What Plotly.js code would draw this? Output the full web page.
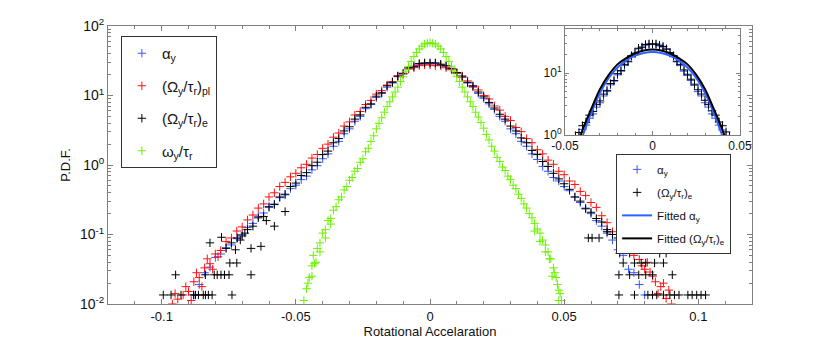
<!DOCTYPE html>
<html><head><meta charset="utf-8">
<script src="https://cdn.plot.ly/plotly-3.0.1.min.js"></script>
<style>html,body{margin:0;padding:0;background:#fff}#chart{width:830px;height:344px}</style>
</head><body><div id="chart"></div>
<script>
// Shared bin centres (rotational acceleration)
const accelX = [-0.1,-0.098,-0.096,-0.094,-0.092,-0.09,-0.088,-0.086,-0.084,-0.082,
-0.08,-0.078,-0.076,-0.074,-0.072,-0.07,-0.068,-0.066,-0.064,-0.062,
-0.06,-0.058,-0.056,-0.054,-0.052,-0.05,-0.048,-0.046,-0.044,-0.042,
-0.04,-0.038,-0.036,-0.034,-0.032,-0.03,-0.028,-0.026,-0.024,-0.022,
-0.02,-0.018,-0.016,-0.014,-0.012,-0.01,-0.008,-0.006,-0.004,-0.002,
0,
0.002,0.004,0.006,0.008,0.01,0.012,0.014,0.016,0.018,0.02,
0.022,0.024,0.026,0.028,0.03,0.032,0.034,0.036,0.038,0.04,
0.042,0.044,0.046,0.048,0.05,0.052,0.054,0.056,0.058,0.06,
0.062,0.064,0.066,0.068,0.07,0.072,0.074,0.076,0.078,0.08,
0.082,0.084,0.086,0.088,0.09,0.092,0.094,0.096,0.098,0.1];

// P.D.F. values, given as powers of ten (log10 of the P.D.F.)
const redLog = [null,null,-2.0,-1.93,-1.87,-1.82,-1.68,-1.62,-1.48,-1.42,
-1.28,-1.23,-1.10,-1.05,-0.95,-0.89,-0.79,-0.72,-0.62,-0.56,
-0.46,-0.40,-0.31,-0.25,-0.17,-0.12,-0.04,0.01,0.10,0.15,
0.24,0.30,0.40,0.46,0.56,0.62,0.72,0.77,0.87,0.93,
1.02,1.07,1.15,1.20,1.28,1.31,1.38,1.40,1.43,1.44,
1.44,
1.43,1.43,1.40,1.37,1.32,1.26,1.21,1.13,1.08,1.00,
0.95,0.85,0.79,0.70,0.64,0.54,0.48,0.38,0.32,0.22,
0.16,0.07,0.01,-0.09,-0.14,-0.23,-0.28,-0.38,-0.44,-0.54,
-0.61,-0.73,-0.83,-0.96,-1.0,-1.12,-1.16,-1.30,-1.36,-1.50,
-1.54,-1.68,-1.75,-1.92,-2.0,null,null,null,null,null];
const redExtraX = [-0.091,-0.087,-0.083,-0.079,-0.081,-0.085,-0.089,-0.095,0.079,0.081,0.083,0.085,0.087,0.089];
const redExtraLog = [-1.75,-1.55,-1.35,-1.32,-1.5,-1.75,-1.95,-1.85,-1.45,-1.4,-1.6,-1.85,-1.7,-1.8];

const blueLog = [null,null,null,null,null,null,-1.87,-1.72,-1.55,-1.47,
-1.33,-1.28,-1.19,-1.15,-1.06,-1.0,-0.90,-0.84,-0.74,-0.69,
-0.61,-0.56,-0.47,-0.43,-0.34,-0.29,-0.21,-0.16,-0.07,-0.01,
0.09,0.16,0.27,0.34,0.45,0.52,0.63,0.70,0.81,0.87,
0.97,1.03,1.12,1.18,1.27,1.31,1.39,1.41,1.45,1.46,
1.46,
1.46,1.44,1.42,1.38,1.32,1.27,1.18,1.12,1.03,0.96,
0.88,0.80,0.70,0.63,0.52,0.45,0.34,0.27,0.16,0.08,
-0.02,-0.09,-0.18,-0.23,-0.31,-0.37,-0.46,-0.54,-0.62,-0.70,
-0.80,-0.88,-0.98,-1.08,-1.22,-1.30,-1.50,-1.55,-1.72,-1.87,
null,null,null,null,null,null,null,null,null,null];

const blackLog = [null,null,null,null,null,null,null,null,null,null,
null,null,null,null,null,-1.02,-0.93,-0.88,-0.76,-0.74,
-0.60,-0.57,-0.46,-0.42,-0.31,-0.26,-0.15,-0.11,-0.01,0.04,
0.15,0.20,0.32,0.38,0.49,0.55,0.66,0.72,0.83,0.88,
0.99,1.04,1.14,1.19,1.28,1.32,1.40,1.42,1.46,1.47,
1.47,
1.47,1.45,1.43,1.39,1.33,1.28,1.19,1.14,1.05,0.98,
0.90,0.82,0.73,0.66,0.56,0.49,0.39,0.32,0.21,0.15,
0.05,-0.02,-0.12,-0.20,-0.27,-0.35,-0.46,-0.52,-0.63,-0.68,
-0.77,-0.82,-0.93,-1.0,-1.05,null,null,null,null,null,
null,null,null,null,null,null,null,null,null,null];
const blackExtraX = [-0.0777,-0.0718,-0.0707,-0.0667,-0.063,-0.054,-0.058,-0.074,-0.076,-0.082,-0.069,-0.061,-0.0725,
-0.0746,-0.072,
-0.0948,-0.0837,-0.0804,-0.0793,-0.0779,-0.0766,-0.0749,-0.0667,
-0.0994,-0.0965,-0.0928,-0.0881,-0.0874,-0.0863,-0.0845,-0.0837,-0.0826,-0.0812,-0.0738,
0.059,0.0604,0.063,0.0707,0.0744,0.0765,0.0856,0.088,0.066,
0.072,0.0762,0.0787,0.0804,0.0837,0.087,
0.0704,0.0744,0.0778,0.0804,0.0829,0.0903,
0.0704,0.0762,0.0812,0.0829,0.0845,0.087,0.0894,0.0911,0.0928,0.0961,0.0977,0.0994,0.101,0.1027];
const blackExtraLog = [-1.04,-1.05,-1.08,-1.20,-1.17,-0.67,-0.88,-1.12,-1.2,-1.12,-0.98,-0.80,-1.22,
-1.41,-1.41,
-1.58,-1.58,-1.58,-1.58,-1.58,-1.58,-1.58,-1.58,
-1.87,-1.87,-1.87,-1.87,-1.87,-1.87,-1.87,-1.87,-1.87,-1.87,-1.87,
-1.05,-1.05,-1.05,-1.27,-1.27,-1.2,-1.27,-1.27,-0.96,
-1.41,-1.41,-1.41,-1.41,-1.41,-1.41,
-1.58,-1.58,-1.58,-1.58,-1.58,-1.58,
-1.87,-1.87,-1.87,-1.87,-1.87,-1.87,-1.87,-1.87,-1.87,-1.87,-1.87,-1.87,-1.87,-1.87];

const greenX = [-0.047,-0.046,-0.045,-0.044,-0.043,-0.042,-0.041,-0.04,-0.039,-0.038,
-0.037,-0.036,-0.035,-0.034,-0.033,-0.032,-0.031,-0.03,-0.029,-0.028,
-0.027,-0.026,-0.025,-0.024,-0.023,-0.022,-0.021,-0.02,-0.019,-0.018,
-0.017,-0.016,-0.015,-0.014,-0.013,-0.012,-0.011,-0.01,-0.009,-0.008,
-0.007,-0.006,-0.005,-0.004,-0.003,-0.002,-0.001,0,
0.001,0.002,0.003,0.004,0.005,0.006,0.007,0.008,0.009,0.01,
0.011,0.012,0.013,0.014,0.015,0.016,0.017,0.018,0.019,0.02,
0.021,0.022,0.023,0.024,0.025,0.026,0.027,0.028,0.029,0.03,
0.031,0.032,0.033,0.034,0.035,0.036,0.037,0.038,0.039,0.04,
0.041,0.042,0.043,0.044,0.045,0.046,0.047,0.048,0.049,
-0.0455,-0.0435,-0.0425,-0.041,-0.039,-0.037,-0.044,0.0445,0.0455,0.048,0.0465,0.043,0.041,0.039,0.0475,0.0485];
const greenLog = [-1.95,-1.78,-1.62,-1.45,-1.42,-1.2,-1.12,-0.98,-0.93,-0.80,
-0.77,-0.65,-0.60,-0.50,-0.46,-0.36,-0.31,-0.22,-0.18,-0.09,
-0.05,0.04,0.09,0.19,0.24,0.34,0.42,0.52,0.60,0.68,
0.76,0.84,0.91,0.98,1.05,1.12,1.20,1.27,1.35,1.42,
1.49,1.56,1.62,1.67,1.71,1.74,1.75,1.76,
1.75,1.74,1.71,1.67,1.62,1.56,1.49,1.42,1.35,1.27,
1.20,1.12,1.05,0.98,0.91,0.84,0.76,0.69,0.61,0.53,
0.44,0.36,0.27,0.20,0.11,0.05,-0.03,-0.08,-0.16,-0.21,
-0.29,-0.34,-0.42,-0.48,-0.56,-0.62,-0.70,-0.76,-0.84,-0.92,
-0.98,-1.08,-1.15,-1.25,-1.35,-1.48,-1.62,-1.80,-1.95,
-1.70,-1.30,-1.40,-1.25,-1.05,-0.85,-1.6,-1.35,-1.6,-1.95,-1.55,-1.25,-1.1,-0.95,-1.72,-1.85];

// Fitted curves of the inset (log10 of P.D.F.)
const fitX = [-0.043,-0.04,-0.035,-0.03,-0.025,-0.02,-0.015,-0.01,-0.005,0,0.005,0.01,0.015,0.02,0.025,0.03,0.035,0.04,0.043];
const fitBlackLog = [-0.18,0.08,0.42,0.74,0.97,1.14,1.24,1.32,1.365,1.38,1.365,1.32,1.24,1.14,0.97,0.74,0.42,0.08,-0.18];
const fitBlueLog = [-0.25,-0.02,0.36,0.68,0.92,1.09,1.2,1.28,1.325,1.34,1.325,1.28,1.2,1.09,0.92,0.68,0.36,-0.02,-0.25];

const xTickVals = [-0.1,-0.05,0,0.05,0.1];
const xTickText = ['-0.1','-0.05','0','0.05','0.1'];
const yTickVals = [0.01,0.1,1,10,100];
const yTickText = ['10<sup>-2</sup>','10<sup>-1</sup>','10<sup>0</sup>','10<sup>1</sup>','10<sup>2</sup>'];
const insetXTickVals = [-0.05,0,0.05];
const insetXTickText = ['-0.05','0','0.05'];
const insetYTickVals = [1,10];
const insetYTickText = ['10<sup>0</sup>','10<sup>1</sup>'];

const pow10 = a => a.map(v => v === null ? null : Math.pow(10, v));

const BLUE = '#3358ff', RED = '#ff1010', BLACK = '#000000', GREEN = '#6cf000';
const FONT = 'Liberation Sans, Arial, Helvetica, sans-serif';
const mk = c => ({symbol:'cross-thin', size:6, color:c, line:{color:c, width:1}});

const traces = [
 {x: accelX, y: pow10(blueLog), mode:'markers', marker: mk(BLUE), name:'α<sub>y</sub>', legend:'legend', legendgroup:'g1', xaxis:'x', yaxis:'y'},
 {x: accelX.concat(redExtraX), y: pow10(redLog.concat(redExtraLog)), mode:'markers', marker: mk(RED), name:'(Ω<sub>y</sub>/τ<sub>r</sub>)<sub>pl</sub>', legend:'legend', legendgroup:'g2', xaxis:'x', yaxis:'y'},
 {x: accelX.concat(blackExtraX), y: pow10(blackLog.concat(blackExtraLog)), mode:'markers', marker: mk(BLACK), name:'(Ω<sub>y</sub>/τ<sub>r</sub>)<sub>e</sub>', legend:'legend', legendgroup:'g3', xaxis:'x', yaxis:'y'},
 {x: greenX, y: pow10(greenLog), mode:'markers', marker: mk(GREEN), name:'ω<sub>y</sub>/τ<sub>r</sub>', legend:'legend', legendgroup:'g4', xaxis:'x', yaxis:'y'},
 {x: accelX, y: pow10(blueLog), mode:'markers', marker: mk(BLUE), name:'α<sub>y</sub>', legend:'legend2', legendgroup:'h1', xaxis:'x2', yaxis:'y2'},
 {x: accelX.concat(blackExtraX), y: pow10(blackLog.concat(blackExtraLog)), mode:'markers', marker: mk(BLACK), name:'(Ω<sub>y</sub>/τ<sub>r</sub>)<sub>e</sub>', legend:'legend2', legendgroup:'h2', xaxis:'x2', yaxis:'y2'},
 {x: fitX, y: pow10(fitBlueLog), mode:'lines', line:{color:'#3060ff', width:2, shape:'spline'}, name:'Fitted α<sub>y</sub>', legend:'legend2', legendgroup:'h3', xaxis:'x2', yaxis:'y2'},
 {x: fitX, y: pow10(fitBlackLog), mode:'lines', line:{color:'#000', width:2, shape:'spline'}, name:'Fitted (Ω<sub>y</sub>/τ<sub>r</sub>)<sub>e</sub>', legend:'legend2', legendgroup:'h4', xaxis:'x2', yaxis:'y2'}
];

const AX = '#808080';
const layout = {
 width:830, height:344,
 margin:{l:108, r:78, t:26, b:40},
 paper_bgcolor:'#fff', plot_bgcolor:'#fff',
 font:{family:FONT, size:13, color:'#111'},
 showlegend:true,
 xaxis:{domain:[0,1], range:[-0.12,0.12], tickmode:'array', tickvals:xTickVals, ticktext:xTickText,
   ticks:'inside', ticklen:5, tickcolor:AX, showline:true, linecolor:AX, linewidth:1, mirror:'allticks',
   showgrid:false, zeroline:false, tickfont:{size:13},
   minor:{ticks:'inside', ticklen:3, tickcolor:AX, dtick:0.01, showgrid:false},
   title:{text:'Rotational Accelaration', font:{size:13}, standoff:2}},
 yaxis:{domain:[0,1], type:'log', range:[-2,2], tickmode:'array', tickvals:yTickVals, ticktext:yTickText,
   ticks:'inside', ticklen:5, tickcolor:AX, showline:true, linecolor:AX, linewidth:1, mirror:'allticks',
   showgrid:false, zeroline:false, tickfont:{size:14},
   minor:{ticks:'inside', ticklen:3, tickcolor:AX, dtick:'D1', showgrid:false},
   title:{text:'P.D.F.', font:{size:13}, standoff:6}},
 xaxis2:{domain:[0.7096,0.9814], anchor:'y2', range:[-0.05,0.05], tickmode:'array', tickvals:insetXTickVals, ticktext:insetXTickText,
   ticks:'inside', ticklen:4, tickcolor:AX, showline:true, linecolor:AX, linewidth:1, mirror:'allticks',
   showgrid:false, zeroline:false, tickfont:{size:12},
   minor:{ticks:'inside', ticklen:2, tickcolor:AX, dtick:0.01, showgrid:false}},
 yaxis2:{domain:[0.608,0.989], anchor:'x2', type:'log', range:[0,1.71], tickmode:'array', tickvals:insetYTickVals, ticktext:insetYTickText,
   ticks:'inside', ticklen:4, tickcolor:AX, showline:true, linecolor:AX, linewidth:1, mirror:'allticks',
   showgrid:false, zeroline:false, tickfont:{size:12},
   minor:{ticks:'inside', ticklen:2, tickcolor:AX, dtick:'D1', showgrid:false}},
 legend:{x:0.02, y:0.964, xanchor:'left', yanchor:'top', bgcolor:'#fff', bordercolor:'#333', borderwidth:1,
   font:{size:15, family:FONT}, tracegroupgap:10, itemsizing:'trace'},
 legend2:{x:0.789, y:0.54, xanchor:'left', yanchor:'top', bgcolor:'#fff', bordercolor:'#333', borderwidth:1,
   font:{size:11.5, family:FONT}, tracegroupgap:4, itemsizing:'trace'}
};

Plotly.newPlot('chart', traces, layout, {displayModeBar:false, staticPlot:true});
</script></body></html>
